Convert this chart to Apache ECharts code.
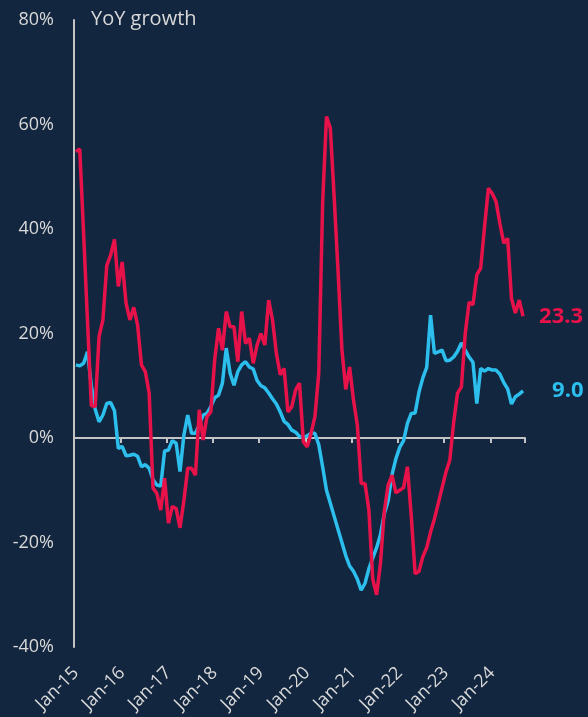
<!DOCTYPE html>
<html>
<head>
<meta charset="utf-8">
<script src="https://cdn.jsdelivr.net/npm/echarts@6/dist/echarts.min.js"></script>
<style>
  html, body { margin: 0; padding: 0; background: #13263f; }
  #chart { width: 588px; height: 717px; }
</style>
</head>
<body>
<div id="chart"></div>
<script>
// monthly categories, Jan-15 .. Sep-24
const monthNames = ['Jan', 'Feb', 'Mar', 'Apr', 'May', 'Jun', 'Jul', 'Aug', 'Sep', 'Oct', 'Nov', 'Dec']
const categories = []
for (let y = 15; y <= 24; y++) {
  monthNames.forEach(m => categories.push(m + '-' + y))
}
categories.length = 117

const yTicks = [-40, -20, 0, 20, 40, 60, 80]

// red line
const redValues = [
  54.8, 55.3, 39, 22.4, 6.2, 6.0, 19.4, 22.6, 33, 35, 38, 29,
  33.7, 25.8, 22.6, 25, 21.6, 14, 12.7, 8.6, -9.6, -10.6, -13.8, -7.7,
  -16.3, -13.1, -13.5, -17.2, -12, -5.8, -5.8, -7.1, 5.4, -0.4, 4.1, 5,
  15, 21, 16.8, 24.2, 21.3, 21.3, 14.6, 24.2, 18.1, 19.1, 14.3, 17.8,
  20, 17.8, 26.4, 22.6, 16.2, 12.1, 13.3, 5, 6, 9.2, 10.5, -0.7,
  -1.7, 0.9, 4.1, 12.4, 45, 61.5, 59.3, 46, 32, 17, 9.3, 13.6,
  7.3, 2.5, -8.7, -8.7, -13.8, -27, -30, -24, -14, -9, -7.1, -10.5,
  -10, -9.5, -5.5, -15, -26, -25.5, -22.7, -21, -18, -15.5, -12.5, -9.5,
  -6.5, -4.2, 3, 8.6, 9.8, 20, 26, 25.5, 31.2, 32.5, 40.4, 47.8,
  46.8, 45.2, 41, 37.3, 38.2, 26.7, 23.9, 26.4, 23.3
]

// cyan line
const cyanValues = [
  14, 13.8, 14.3, 16.5, 10, 5.5, 3.1, 4.4, 6.6, 6.8, 5.2, -2,
  -1.6, -3.4, -3.3, -3.1, -3.5, -5.5, -5.1, -5.8, -8, -9, -9.2, -2.5,
  -2.3, -0.5, -1, -6.4, 0.5, 4.4, 0.9, 0.9, 2.5, 4.4, 4.7, 6,
  7.7, 8.2, 10.5, 17.2, 12.4, 10.1, 12.7, 14, 14.6, 13.6, 13.2, 11,
  10, 9.6, 8.6, 7.5, 6.5, 5, 3.2, 2.6, 1.5, 1.1, 0.3, 0.1,
  0.4, 0.9, 0.9, -1.3, -5.5, -10, -12.5, -15, -17.5, -20, -22.5, -24.5,
  -25.5, -27, -29.1, -27.8, -25, -23, -21, -18.5, -14.5, -12, -7, -4,
  -1.8, -0.5, 2.8, 4.7, 4.8, 8.8, 11.5, 13.5, 23.5, 16.2, 16.5, 16.8,
  14.8, 14.9, 15.5, 16.6, 18.2, 16.8, 15.5, 14.5, 6.6, 13.3, 12.8, 13.3,
  13, 13, 12.2, 10.6, 9.4, 6.5, 7.9, 8.4, 9.0
]

const RED = '#e8124a'
const CYAN = '#2cbfee'
const TEXT = '#d9d9d9'
const AXIS = '#c4c4c4'

const chart = echarts.init(document.getElementById('chart'))

const janOnly = (index) => index % 12 === 0

const option = {
  animation: false,
  backgroundColor: '#13263f',
  textStyle: { fontFamily: 'Open Sans' },
  title: {
    text: 'YoY growth',
    left: 86,
    top: 4,
    textStyle: { color: TEXT, fontSize: 20, fontWeight: 'normal', fontFamily: 'Open Sans' }
  },
  grid: { left: 74, right: 63, top: 20, bottom: 70 },
  xAxis: [
    {
      type: 'category',
      data: categories,
      position: 'bottom',
      boundaryGap: true,
      axisLine: { show: false, onZero: false },
      axisTick: { show: false },
      axisLabel: {
        interval: janOnly,
        rotate: 45,
        margin: 23,
        color: TEXT,
        fontSize: 18
      }
    },
    {
      type: 'category',
      data: categories,
      position: 'bottom',
      boundaryGap: true,
      axisLine: { show: true, onZero: true, lineStyle: { color: AXIS, width: 2 } },
      axisTick: { show: true, interval: janOnly, length: 5, lineStyle: { color: AXIS, width: 2 } },
      axisLabel: { show: false }
    }
  ],
  yAxis: {
    type: 'value',
    min: yTicks[0],
    max: yTicks[yTicks.length - 1],
    interval: 20,
    axisLine: { show: true, onZero: false, lineStyle: { color: AXIS, width: 2 } },
    axisTick: { show: false },
    splitLine: { show: false },
    axisLabel: {
      formatter: v => v + '%',
      color: TEXT,
      fontSize: 18,
      margin: 20
    }
  },
  series: [
    {
      name: 'Cyan',
      type: 'line',
      data: cyanValues,
      symbol: 'none',
      lineStyle: { color: CYAN, width: 3.5 },
      itemStyle: { color: CYAN },
      endLabel: {
        show: true,
        formatter: p => p.value.toFixed(1),
        color: CYAN,
        fontSize: 22,
        fontWeight: 'bold',
        distance: 29
      }
    },
    {
      name: 'Red',
      type: 'line',
      data: redValues,
      symbol: 'none',
      lineStyle: { color: RED, width: 3.5 },
      itemStyle: { color: RED },
      endLabel: {
        show: true,
        formatter: p => p.value.toFixed(1),
        color: RED,
        fontSize: 22,
        fontWeight: 'bold',
        distance: 16
      }
    }
  ]
}

chart.setOption(option)
</script>
</body>
</html>
